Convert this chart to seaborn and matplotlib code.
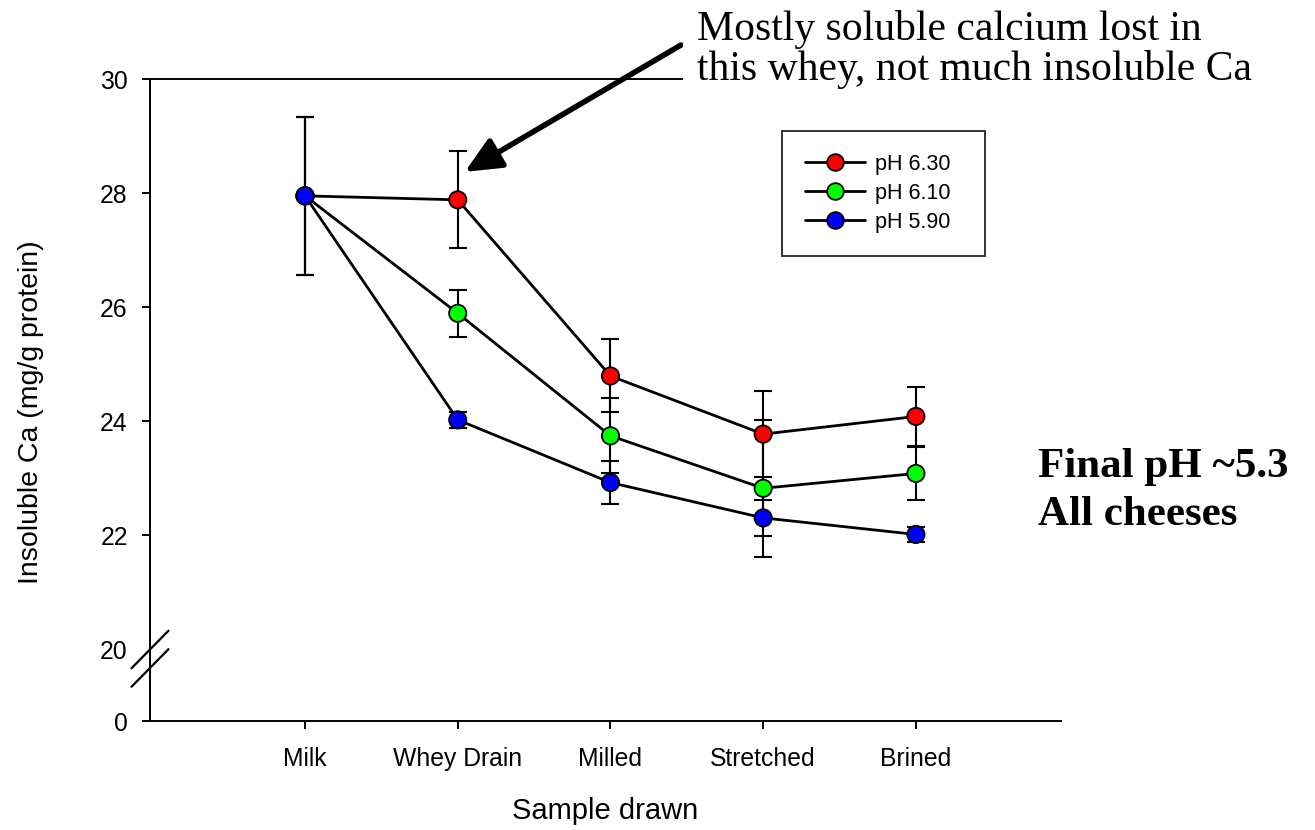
import numpy as np
import pandas as pd
import matplotlib
matplotlib.use('Agg')
import matplotlib.pyplot as plt
import seaborn as sns
from matplotlib.lines import Line2D

# ---------------- data ----------------
stages = ['Milk', 'Whey Drain', 'Milled', 'Stretched', 'Brined']
series_names = ['pH 6.30', 'pH 6.10', 'pH 5.90']
ph630 = [27.95, 27.88, 24.79, 23.77, 24.08]
ph630_err = [1.39, 0.85, 0.64, 0.75, 0.52]
ph610 = [27.95, 25.89, 23.74, 22.82, 23.08]
ph610_err = [1.39, 0.41, 0.66, 1.20, 0.47]
ph590 = [27.95, 24.02, 22.92, 22.30, 22.01]
ph590_err = [1.39, 0.135, 0.37, 0.31, 0.13]
colors = ['#FF0000', '#00FF00', '#0000FF']
yticks = [0, 20, 22, 24, 26, 28, 30]
ylabel = 'Insoluble Ca (mg/g protein)'
xlabel = 'Sample drawn'
note1 = ['Mostly soluble calcium lost in', 'this whey, not much insoluble Ca']
note2 = ['Final pH ~5.3', 'All cheeses']

rows = []
for name, vals, errs in zip(series_names, [ph630, ph610, ph590],
                            [ph630_err, ph610_err, ph590_err]):
    for i, (s, v, e) in enumerate(zip(stages, vals, errs)):
        rows.append(dict(series=name, stage=s, pos=i + 1, value=v, err=e))
df = pd.DataFrame(rows)

# ---------------- style ----------------
sns.set_theme(style='ticks')
plt.rcParams['font.family'] = ['Liberation Sans', 'DejaVu Sans']
plt.rcParams['text.color'] = 'black'
plt.rcParams['axes.labelcolor'] = 'black'
plt.rcParams['xtick.color'] = 'black'
plt.rcParams['ytick.color'] = 'black'

W, H = 1315, 830
fig = plt.figure(figsize=(W / 100, H / 100), dpi=100)
ax = fig.add_axes([150 / W, 109 / H, 911 / W, 642 / H])

# broken axis: 0..20 compressed
K = 1.263 / 20.0
def fwd(y):
    y = np.asarray(y, dtype=float)
    return np.where(y >= 20, y, 20 - (20 - y) * K)
def inv(t):
    t = np.asarray(t, dtype=float)
    return np.where(t >= 20, t, 20 - (20 - t) / K)
ax.set_yscale('function', functions=(fwd, inv))

# error bars
for name in series_names:
    sub = df[df.series == name]
    ax.errorbar(sub.pos, sub.value, yerr=sub.err, fmt='none', ecolor='black',
                elinewidth=1.5, capsize=6.5, capthick=1.5, zorder=2)

sns.lineplot(data=df, x='pos', y='value', units='series', estimator=None,
             color='black', linewidth=2.0, sort=False, ax=ax, zorder=3,
             legend=False)
sns.scatterplot(data=df, x='pos', y='value', hue='series',
                palette=dict(zip(series_names, colors)), s=155,
                edgecolor='black', linewidth=1.3, zorder=4, legend=False, ax=ax)

ax.set_xlim(-0.015, 5.95)
ax.set_ylim(0, 30)
ax.set_xticks(range(1, len(stages) + 1))
ax.set_xticklabels(stages)
ax.set_yticks(yticks)
ax.set_yticklabels([str(t) for t in yticks])
ax.set_xlabel(xlabel, fontsize=21, color='black')
ax.set_ylabel(ylabel, fontsize=20.5, color='black')
ax.xaxis.set_label_coords(0.5, -0.118)
ax.yaxis.set_label_coords(-0.116, 0.481)

for sp in ['left', 'bottom', 'top']:
    ax.spines[sp].set_color('black')
    ax.spines[sp].set_linewidth(1.4)
ax.spines['right'].set_visible(False)
ax.tick_params(axis='both', direction='out', length=6, width=1.4,
               color='black', labelsize=17.8, labelcolor='black')
ax.tick_params(axis='x', pad=13)
ax.tick_params(axis='y', pad=10)
ax.tick_params(top=False, right=False)
ax.yaxis.get_major_ticks()[1].tick1line.set_visible(False)

# break marks on y axis
dx, dy = 18.5 / 911, 18.8 / 642
for yc in [0.1114, 0.0826]:
    ax.plot([-dx, dx], [yc - dy, yc + dy], transform=ax.transAxes,
            color='black', lw=1.6, clip_on=False, zorder=6)

# legend
handles = [Line2D([0], [0], color='black', lw=2.0, marker='o', markersize=12,
                  markerfacecolor=c, markeredgecolor='black',
                  markeredgewidth=1.3) for c in colors]
x0 = (782 - 150) / 911
y1 = (721 - 131) / 642
y0 = (721 - 251) / 642
leg = ax.legend(handles, series_names, loc='upper left',
                bbox_to_anchor=(x0, y0, (985 - 782) / 911, y1 - y0),
                mode='expand', frameon=True, fancybox=False, edgecolor='black',
                fontsize=15.5, handlelength=2.8, handletextpad=0.45,
                borderpad=1.05, labelspacing=0.38, borderaxespad=0)
leg.get_frame().set_linewidth(1.4)
leg.get_frame().set_facecolor('white')
for t in leg.get_texts():
    t.set_color('black')

# arrow
ax.annotate('', xy=(2.046, 28.37), xycoords='data',
            xytext=(681 / W, 1 - 45 / H), textcoords='figure fraction',
            arrowprops=dict(arrowstyle='-|>,head_length=1.1,head_width=0.5',
                            lw=4.0, color='black', shrinkA=0, shrinkB=0,
                            mutation_scale=20),
            annotation_clip=False, zorder=7)

# annotations
serif = ['Liberation Serif', 'DejaVu Serif']
fig.text(697 / W, 1 - 80 / H, note1[1], family=serif, fontsize=30,
         color='black', va='baseline', ha='left', zorder=5,
         bbox=dict(facecolor='white', edgecolor='none', pad=10))
fig.text(697 / W, 1 - 40 / H, note1[0], family=serif, fontsize=30,
         color='black', va='baseline', ha='left', zorder=6)
fig.text(1038 / W, 1 - 477 / H, note2[0], family=serif, fontsize=31,
         color='black', fontweight='bold', va='baseline', ha='left')
fig.text(1038 / W, 1 - 525 / H, note2[1], family=serif, fontsize=31,
         color='black', fontweight='bold', va='baseline', ha='left')

fig.savefig('out.png', dpi=100, facecolor='white')
